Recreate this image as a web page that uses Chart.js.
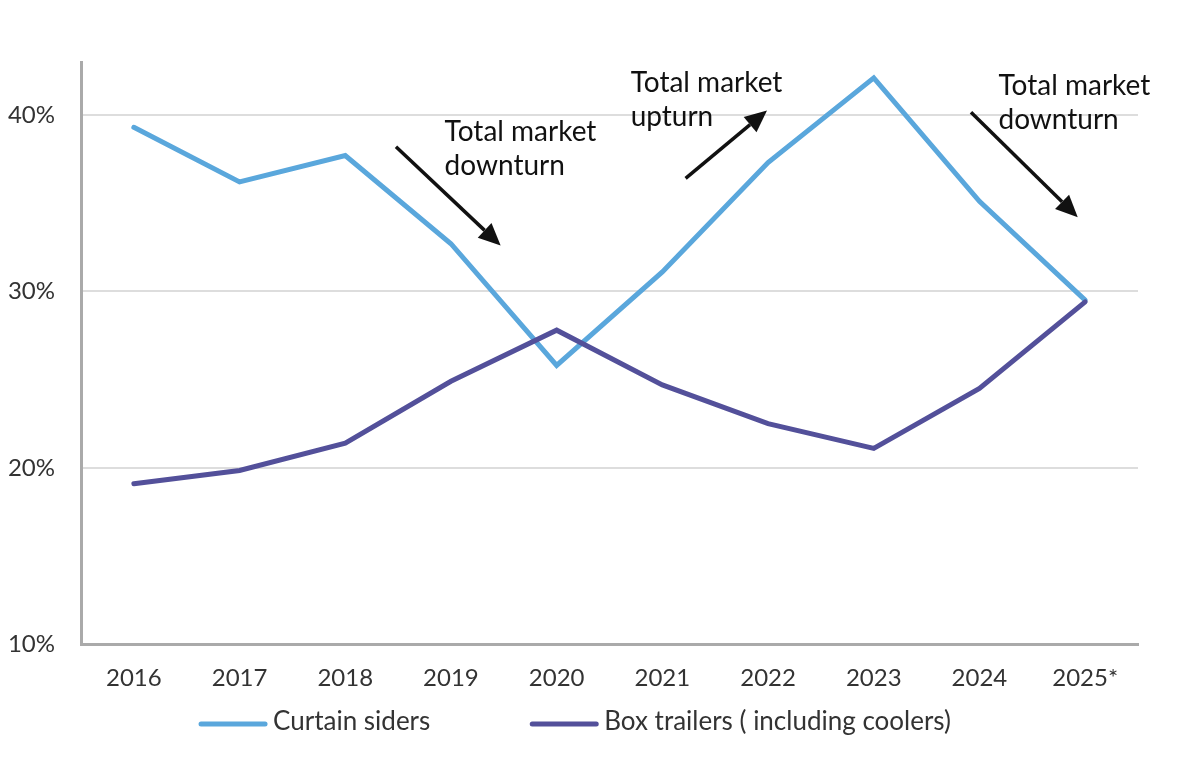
<!DOCTYPE html>
<html>
<head>
    <meta charset="utf-8">
    <title>Curtain siders vs box trailers</title>
    <script src="https://cdn.jsdelivr.net/npm/chart.js"></script>
    <style>
        html, body { margin: 0; padding: 0; background: #fff; }
        .wrap { width: 1200px; height: 771px; }
    </style>
</head>
<body>
    <div class="wrap"><canvas id="chart"></canvas></div>

    <script>
        const years = ["2016", "2017", "2018", "2019", "2020", "2021", "2022", "2023", "2024", "2025*"];
        const curtainSiders = [39.3, 36.2, 37.7, 32.7, 25.8, 31.1, 37.3, 42.1, 35.1, 29.5];
        const boxTrailers = [19.1, 19.85, 21.4, 24.9, 27.8, 24.7, 22.5, 21.1, 24.5, 29.4];
        const yTicks = [10, 20, 30, 40];

        // annotations in chart units: x = category index, y = percent
        const noteTexts = [
            ["Total market", "downturn"],
            ["Total market", "upturn"],
            ["Total market", "downturn"]
        ];
        const noteAnchors = [
            { x: 2.94, y: 38.52 },
            { x: 4.70, y: 41.29 },
            { x: 8.18, y: 41.14 }
        ];
        const arrowFrom = [
            { x: 2.48, y: 38.2 },
            { x: 5.22, y: 36.4 },
            { x: 7.92, y: 40.15 }
        ];
        const arrowTo = [
            { x: 3.47, y: 32.6 },
            { x: 5.99, y: 40.25 },
            { x: 8.93, y: 34.2 }
        ];

        const FONT = "Lato, 'Noto Sans', sans-serif";

        const notesPlugin = {
            id: "notes",
            afterDatasetsDraw(chart) {
                const ctx = chart.ctx;
                const xs = chart.scales.x, ys = chart.scales.y;
                ctx.save();
                ctx.fillStyle = "#111";
                ctx.strokeStyle = "#111";
                ctx.font = "28px " + FONT;
                ctx.textBaseline = "alphabetic";
                ctx.textAlign = "left";
                noteTexts.forEach((lines, i) => {
                    const px = xs.getPixelForValue(noteAnchors[i].x);
                    const py = ys.getPixelForValue(noteAnchors[i].y);
                    lines.forEach((t, j) => ctx.fillText(t, px, py + j * 34));
                });
                arrowFrom.forEach((a, i) => {
                    const x1 = xs.getPixelForValue(a.x), y1 = ys.getPixelForValue(a.y);
                    const x2 = xs.getPixelForValue(arrowTo[i].x), y2 = ys.getPixelForValue(arrowTo[i].y);
                    const ang = Math.atan2(y2 - y1, x2 - x1);
                    const headLen = 22, headW = 10;
                    const bx = x2 - headLen * Math.cos(ang), by = y2 - headLen * Math.sin(ang);
                    ctx.lineWidth = 3.5;
                    ctx.beginPath();
                    ctx.moveTo(x1, y1);
                    ctx.lineTo(bx, by);
                    ctx.stroke();
                    ctx.beginPath();
                    ctx.moveTo(x2, y2);
                    ctx.lineTo(bx + headW * Math.sin(ang), by - headW * Math.cos(ang));
                    ctx.lineTo(bx - headW * Math.sin(ang), by + headW * Math.cos(ang));
                    ctx.closePath();
                    ctx.fill();
                });
                ctx.restore();
            }
        };

        // legend drawn by hand so the item gap doesn't add vertical space
        const legendPlugin = {
            id: "lineLegend",
            afterDraw(chart) {
                const ctx = chart.ctx;
                const sets = chart.data.datasets;
                const sample = 68, textGap = 6, itemGap = 100;
                const y = 722;
                ctx.save();
                ctx.font = "26px " + FONT;
                ctx.textBaseline = "middle";
                ctx.textAlign = "left";
                const widths = sets.map(d => sample + textGap + ctx.measureText(d.label).width);
                const total = widths.reduce((a, b) => a + b, 0) + itemGap * (sets.length - 1);
                let x = 575 - total / 2;
                sets.forEach((d, i) => {
                    ctx.strokeStyle = d.borderColor;
                    ctx.lineWidth = 5;
                    ctx.lineCap = "round";
                    ctx.beginPath();
                    ctx.moveTo(x + 2, y + 2);
                    ctx.lineTo(x + sample - 2, y + 2);
                    ctx.stroke();
                    ctx.fillStyle = "#333";
                    ctx.fillText(d.label, x + sample + textGap, y);
                    x += widths[i] + itemGap;
                });
                ctx.restore();
            }
        };

        new Chart(document.getElementById("chart"), {
            type: "line",
            data: {
                labels: years,
                datasets: [
                    {
                        label: "Curtain siders",
                        data: curtainSiders,
                        borderColor: "#5aa7dc",
                        backgroundColor: "#5aa7dc",
                        borderWidth: 5,
                        pointRadius: 0,
                        borderCapStyle: "round",
                        tension: 0,
                        order: 2
                    },
                    {
                        label: "Box trailers ( including coolers)",
                        data: boxTrailers,
                        borderColor: "#53509a",
                        backgroundColor: "#53509a",
                        borderWidth: 5,
                        pointRadius: 0,
                        borderCapStyle: "round",
                        tension: 0,
                        order: 1
                    }
                ]
            },
            options: {
                responsive: true,
                maintainAspectRatio: false,
                animation: false,
                layout: { padding: { top: 62, right: 62, left: 0, bottom: 58 } },
                plugins: {
                    legend: { display: false },
                    tooltip: { enabled: false }
                },
                scales: {
                    x: {
                        offset: true,
                        grid: { display: false, drawTicks: false },
                        border: { color: "#aaa", width: 3 },
                        ticks: { color: "#333", padding: 20, font: { family: FONT, size: 24 } }
                    },
                    y: {
                        min: 10,
                        max: 43,
                        afterFit: (s) => { s.width = 81; },
                        afterBuildTicks: (s) => { s.ticks = yTicks.map(v => ({ value: v })); },
                        grid: { color: "#dddddd", lineWidth: 2, drawTicks: false },
                        border: { color: "#aaa", width: 3 },
                        ticks: {
                            color: "#333",
                            padding: 26,
                            font: { family: FONT, size: 24 },
                            callback: (v) => v + "%"
                        }
                    }
                }
            },
            plugins: [notesPlugin, legendPlugin]
        });
    </script>
</body>
</html>
